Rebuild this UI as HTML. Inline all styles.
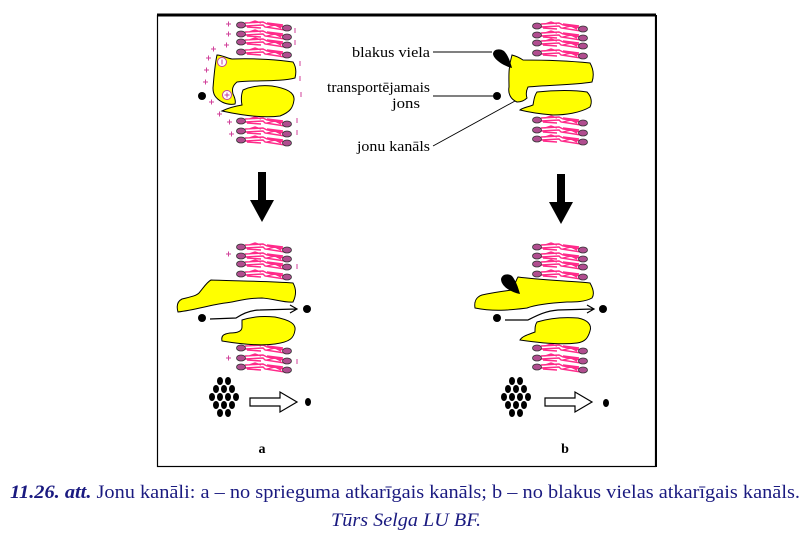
<!DOCTYPE html>
<html><head><meta charset="utf-8"><style>
html,body{margin:0;padding:0;background:#fff;width:808px;height:544px;overflow:hidden}
svg{display:block}
</style></head><body>
<svg width="808" height="544" viewBox="0 0 808 544" xmlns="http://www.w3.org/2000/svg">
<defs>
<g id="row">
<path d="M4,-2 L22,-3 L26,-1 L44,2 M4,1 L22,0 L24,2 L44,5 M8,-2 L14,-4 L20,-2 M26,2 L34,0 L40,3 M6,2 L20,3 M26,-2 L42,0" stroke="#ff2a8a" stroke-width="1.4" fill="none"/>
<ellipse cx="0" cy="0" rx="4.5" ry="3" fill="#b04d8f" stroke="#333" stroke-width="0.8"/>
<ellipse cx="46" cy="3" rx="4.5" ry="3" fill="#b04d8f" stroke="#333" stroke-width="0.8"/>
</g>
<g id="bl4"><use href="#row" y="0"/><use href="#row" y="9"/><use href="#row" y="17"/><use href="#row" y="27"/></g>
<g id="bl3"><use href="#row" y="0"/><use href="#row" y="10"/><use href="#row" y="19"/></g>
<g id="cluster" fill="#000">
<ellipse cx="8" cy="0" rx="3" ry="4"/><ellipse cx="16" cy="0" rx="3" ry="4"/>
<ellipse cx="4" cy="8" rx="3" ry="4"/><ellipse cx="12" cy="8" rx="3" ry="4"/><ellipse cx="20" cy="8" rx="3" ry="4"/>
<ellipse cx="0" cy="16" rx="3" ry="4"/><ellipse cx="8" cy="16" rx="3" ry="4"/><ellipse cx="16" cy="16" rx="3" ry="4"/><ellipse cx="24" cy="16" rx="3" ry="4"/>
<ellipse cx="4" cy="24" rx="3" ry="4"/><ellipse cx="12" cy="24" rx="3" ry="4"/><ellipse cx="20" cy="24" rx="3" ry="4"/>
<ellipse cx="8" cy="32" rx="3" ry="4"/><ellipse cx="16" cy="32" rx="3" ry="4"/>
</g>
<g id="down"><rect x="-4" y="0" width="8" height="30" fill="#000"/><polygon points="-12,28 12,28 0,50" fill="#000"/></g>
<g id="open"><polygon points="0,-4 30,-4 30,-10 47,0 30,10 30,4 0,4" fill="#fff" stroke="#000" stroke-width="1.2"/></g>
</defs>

<rect x="157.5" y="15.5" width="498" height="451" fill="none" stroke="#000" stroke-width="1.2"/>
<line x1="157" y1="15" x2="656" y2="15" stroke="#000" stroke-width="3"/>
<line x1="656" y1="15" x2="656" y2="467" stroke="#000" stroke-width="2"/>

<!-- Panel a top -->
<use href="#bl4" x="241" y="25"/>
<use href="#bl3" x="241" y="121"/>
<path d="M217,55 C222,55 226,58 232,59 C255,58 280,60 293,62 C297,68 296,74 295,78 C280,82 255,80 237,82 C232,86 232,90 233,94 C235,98 236,101 235,104 C230,105 226,104 222,102 C215,98 213,94 213,88 C214,75 215,64 217,55 Z" fill="#ffff00" stroke="#000" stroke-width="1"/>
<path d="M243,90 C252,86 262,85 272,86 C285,88 295,92 294,100 C293,108 290,112 280,116 C265,118 245,116 222,111 C228,108 236,106 242,105 C241,100 241,95 243,90 Z" fill="#ffff00" stroke="#000" stroke-width="1"/>
<circle cx="222" cy="62" r="4.5" fill="#fff" stroke="#c040a0" stroke-width="1"/><line x1="222" y1="59.5" x2="222" y2="64.5" stroke="#c040a0"/>
<circle cx="227" cy="95" r="4.5" fill="#fff" stroke="#c040a0" stroke-width="1"/><path d="M224.5,95 H229.5 M227,92.5 V97.5" stroke="#c040a0"/>
<circle cx="202" cy="96" r="4" fill="#000"/>
<g stroke="#d0409a" stroke-width="1">
<path d="M226,24 h5 M228.5,21.5 v5 M226,34 h5 M228.5,31.5 v5 M224,45 h5 M226.5,42.5 v5 M211,49 h5 M213.5,46.5 v5 M206,58 h5 M208.5,55.5 v5 M204,70 h5 M206.5,67.5 v5 M203,82 h5 M205.5,79.5 v5 M209,102 h5 M211.5,99.5 v5 M217,114 h5 M219.5,111.5 v5 M227,122 h5 M229.5,119.5 v5 M229,134 h5 M231.5,131.5 v5"/>
<path d="M295,28 v5 M295,40 v5 M300,61 v5 M300,76 v5 M301,92 v5 M297,118 v5 M297,130 v5"/>
</g>
<use href="#down" x="262" y="172"/>

<!-- Panel a bottom -->
<use href="#bl4" x="241" y="247"/>
<use href="#bl3" x="241" y="348"/>
<path d="M178,312 C176,305 178,301 182,299 C190,297 196,296 199,293 C204,287 207,282 211,280 C235,281 270,281 293,283 C297,290 296,296 293,302 C285,303 275,299 262,298 C245,298 235,302 225,303 C210,305 195,310 178,312 Z" fill="#ffff00" stroke="#000" stroke-width="1"/>
<path d="M242,320 C255,316 265,316 275,317 C290,320 296,324 295,330 C294,338 290,342 275,344 C260,346 240,344 222,341 C221,336 223,334 230,333 C238,333 242,331 242,327 Z" fill="#ffff00" stroke="#000" stroke-width="1"/>
<circle cx="202" cy="318" r="4" fill="#000"/>
<path d="M210,319 L236,318 C242,314 250,310 260,310 L296,309 M290,305 L297,309 L290,313" fill="none" stroke="#000" stroke-width="1.2"/>
<circle cx="307" cy="309" r="4" fill="#000"/>
<g stroke="#d0409a" stroke-width="1"><path d="M226,254 h5 M228.5,251.5 v5 M226,358 h5 M228.5,355.5 v5 M297,264 v5 M297,359 v5"/></g>
<use href="#cluster" x="212" y="381"/>
<use href="#open" x="250" y="402"/>
<ellipse cx="308" cy="402" rx="3" ry="4" fill="#000"/>
<text x="262" y="453" font-family="Liberation Serif, serif" font-size="14" font-weight="bold" text-anchor="middle">a</text>

<!-- Panel b top -->
<use href="#bl4" x="537" y="26"/>
<use href="#bl3" x="537" y="120"/>
<path d="M512,55 C516,56 520,58 523,60 C545,60 570,61 590,63 C594,70 594,76 592,82 C575,85 550,85 528,87 C526,91 526,95 527,98 C524,101 520,102 517,102 C510,99 508,93 509,87 C509,78 508,68 512,55 Z" fill="#ffff00" stroke="#000" stroke-width="1"/>
<path d="M537,92 C555,90 575,90 587,92 C592,97 592,103 590,107 C580,113 565,115 553,115 C540,114 528,112 520,110 C522,108 528,107 533,105 C534,100 534,96 537,92 Z" fill="#ffff00" stroke="#000" stroke-width="1"/>
<path d="M512,68 C504,66 494,60 493,54 C493,49 500,48 504,51 C508,55 510,61 512,68 Z" fill="#000"/>
<circle cx="497" cy="96" r="4" fill="#000"/>
<g stroke="#000" stroke-width="0.9" fill="none"><path d="M433,52 H492 M433,96 H493 M433,146 L515,101"/></g>
<g font-family="Liberation Serif, serif" font-size="15">
<text x="352" y="57" textLength="78" lengthAdjust="spacingAndGlyphs">blakus viela</text>
<text x="327" y="92" textLength="103" lengthAdjust="spacingAndGlyphs">transportējamais</text>
<text x="392" y="108" textLength="28" lengthAdjust="spacingAndGlyphs">jons</text>
<text x="357" y="151" textLength="73" lengthAdjust="spacingAndGlyphs">jonu kanāls</text>
</g>
<use href="#down" x="561" y="174"/>

<!-- Panel b bottom -->
<use href="#bl4" x="537" y="247"/>
<use href="#bl3" x="537" y="348"/>
<path d="M475,308 C474,302 476,297 482,295 C495,292 505,291 512,290 C515,285 516,280 518,277 C540,280 570,281 590,283 C594,290 594,295 592,298 C585,302 575,302 567,302 C550,303 535,305 527,308 C510,310 495,312 475,308 Z" fill="#ffff00" stroke="#000" stroke-width="1"/>
<path d="M520,294 C510,292 501,286 501,279 C502,274 508,273 512,276 C516,281 518,287 520,294 Z" fill="#000"/>
<path d="M537,322 C550,318 565,317 578,318 C588,320 592,325 590,331 C588,338 585,342 577,343 C560,345 540,343 520,340 C522,336 530,334 535,332 C535,328 535,325 537,322 Z" fill="#ffff00" stroke="#000" stroke-width="1"/>
<circle cx="497" cy="318" r="4" fill="#000"/>
<path d="M505,320 L528,320 C536,316 545,311 558,310 L593,309 M587,305 L594,309 L587,313" fill="none" stroke="#000" stroke-width="1.2"/>
<circle cx="603" cy="309" r="4" fill="#000"/>
<use href="#cluster" x="504" y="381"/>
<use href="#open" x="545" y="402"/>
<ellipse cx="606" cy="403" rx="3" ry="4" fill="#000"/>
<text x="565" y="453" font-family="Liberation Serif, serif" font-size="14" font-weight="bold" text-anchor="middle">b</text>

<!-- caption -->
<text x="10" y="498" font-family="Liberation Serif, serif" font-size="19" fill="#1a1a80" textLength="790" lengthAdjust="spacingAndGlyphs"><tspan font-weight="bold" font-style="italic">11.26. att.</tspan> Jonu kanāli: a – no sprieguma atkarīgais kanāls; b – no blakus vielas atkarīgais kanāls.</text>
<text x="331" y="526" font-family="Liberation Serif, serif" font-size="19" font-style="italic" fill="#1a1a80" textLength="150" lengthAdjust="spacingAndGlyphs">Tūrs Selga LU BF.</text>
</svg>
</body></html>
